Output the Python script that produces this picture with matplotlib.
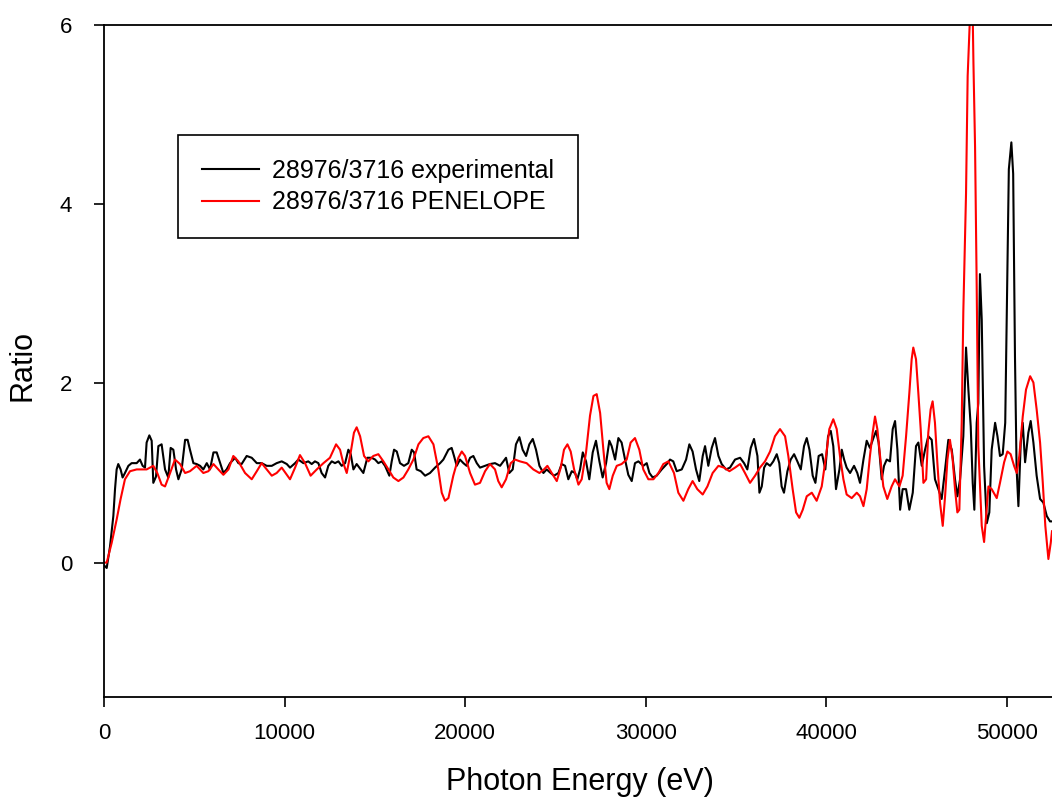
import matplotlib
matplotlib.use("Agg")
import matplotlib.pyplot as plt

plt.rcParams['font.family'] = ['Liberation Sans', 'DejaVu Sans']

# experimental ratio (black)
exp_energy = [0, 150, 333, 517, 610, 700, 790, 920, 1030, 1160, 1350, 1530, 1810, 1990,
              2140, 2270, 2360, 2510, 2640, 2730, 2880, 3010, 3190, 3380, 3560, 3690,
              3840, 3990, 4120, 4300, 4490, 4630, 4760, 4950, 5130, 5320, 5500, 5690,
              5870, 6060, 6240, 6430, 6610, 6790, 6980, 7260, 7440, 7620, 7900, 8180,
              8460, 8730, 9010, 9290, 9560, 9840, 10120,
              10300, 10580, 10760, 11040, 11310, 11500, 11680, 11870, 12050, 12240,
              12420, 12610, 12790, 12980, 13160, 13350, 13530, 13660, 13810, 13990,
              14210, 14360, 14580, 14820, 15010, 15190, 15380, 15560, 15800, 15930,
              16060, 16210, 16390, 16610, 16850, 17040, 17170, 17310, 17540, 17780,
              18050, 18330, 18610, 18790, 19070, 19250, 19380, 19530, 19710, 19900,
              20080, 20270, 20450, 20640,
              20820, 21100, 21370, 21650, 21930, 22110, 22260, 22440, 22630, 22810,
              23000, 23180, 23370, 23550, 23740, 23920, 24110, 24330, 24510, 24730,
              24920, 25160, 25340, 25530, 25710, 25900, 26080, 26210, 26360, 26510,
              26690, 26870, 27060, 27240, 27430, 27610, 27800, 27980, 28110, 28300,
              28480, 28660, 28850, 29030, 29220, 29400, 29590, 29860, 30050, 30200,
              30380, 30600, 30880, 31160,
              31340, 31520, 31710, 31990, 32230, 32410, 32590, 32780, 32960, 33150,
              33280, 33460, 33650, 33830, 34020, 34200, 34440, 34660, 34940, 35220,
              35440, 35620, 35810, 35990, 36180, 36290, 36420, 36550, 36690, 36880,
              37060, 37250, 37390, 37520, 37650, 37840, 38020, 38210, 38390, 38580,
              38760, 38910, 39060, 39240, 39390, 39570, 39760, 39940, 40090, 40240,
              40380, 40530, 40720, 40850, 40980, 41120, 41310, 41530, 41710,
              41860, 42050, 42230, 42410, 42600, 42750, 42890, 43060, 43190, 43340,
              43520, 43670, 43800, 43930, 44080, 44220, 44410, 44590, 44780, 44960,
              45090, 45280, 45460, 45640, 45830, 46010, 46200, 46380, 46570, 46750,
              46940, 47120, 47250, 47400, 47580, 47730, 47860, 47990, 48100, 48190,
              48320, 48410, 48500, 48600, 48730, 48880, 49020, 49150, 49340, 49470,
              49610, 49760, 49900, 49990, 50100, 50240, 50340, 50440, 50530, 50630,
              50760, 50870, 51000, 51180, 51310, 51460, 51640, 51830, 52010, 52200,
              52380, 52490]
exp_ratio = [-0.03, -0.06, 0.18, 0.52, 0.82, 1.04, 1.10, 1.04, 0.95, 1.00, 1.08, 1.11, 1.11, 1.15,
             1.08, 1.06, 1.34, 1.42, 1.36, 0.89, 0.96, 1.30, 1.32, 1.04, 0.95, 1.28,
             1.26, 1.04, 0.93, 1.04, 1.37, 1.37, 1.26, 1.11, 1.10, 1.08, 1.04, 1.11,
             1.04, 1.23, 1.23, 1.11, 1.00, 1.04, 1.11, 1.17, 1.11, 1.10, 1.19, 1.17,
             1.11, 1.11, 1.08, 1.08, 1.11, 1.13, 1.10,
             1.06, 1.11, 1.15, 1.11, 1.13, 1.10, 1.13, 1.11, 1.00, 0.95,
             1.08, 1.13, 1.11, 1.13, 1.08, 1.11, 1.26, 1.21, 1.04, 1.10,
             1.04, 1.00, 1.17, 1.17, 1.15, 1.11, 1.13, 1.08, 0.97, 1.13,
             1.26, 1.24, 1.11, 1.08, 1.11, 1.26, 1.23, 1.04, 1.02, 0.97,
             1.00, 1.06, 1.11, 1.15, 1.26, 1.28, 1.19, 1.08, 1.15, 1.11,
             1.08, 1.17, 1.19, 1.11,
             1.06, 1.08, 1.10, 1.11, 1.08, 1.13, 1.17, 1.00, 1.04, 1.32,
             1.40, 1.26, 1.19, 1.32, 1.38, 1.26, 1.08, 1.00, 1.04, 1.00,
             0.97, 1.00, 1.10, 1.08, 0.93, 1.02, 1.00, 0.93, 1.04, 1.23,
             1.13, 0.93, 1.23, 1.36, 1.13, 0.95, 1.11, 1.36, 1.30, 1.15,
             1.39, 1.34, 1.15, 0.98, 0.91, 1.11, 1.13, 1.08, 1.11, 1.00,
             0.95, 0.97, 1.04, 1.10,
             1.15, 1.13, 1.02, 1.04, 1.15, 1.32, 1.24, 1.04, 0.91, 1.19,
             1.30, 1.08, 1.28, 1.39, 1.19, 1.10, 1.04, 1.06, 1.15, 1.17,
             1.11, 1.04, 1.28, 1.38, 1.19, 0.78, 0.85, 1.06, 1.11, 1.08,
             1.13, 1.21, 1.11, 0.85, 0.78, 1.02, 1.15, 1.21, 1.13, 1.04,
             1.30, 1.39, 1.26, 0.97, 0.89, 1.19, 1.21, 1.04, 1.41, 1.47,
             1.30, 0.82, 1.04, 1.26, 1.15, 1.06, 1.00, 1.08, 1.00,
             0.89, 1.15, 1.36, 1.28, 1.39, 1.47, 1.34, 0.93, 1.08, 1.15,
             1.13, 1.49, 1.58, 1.26, 0.59, 0.82, 0.82, 0.59, 0.78, 1.30,
             1.34, 1.08, 1.26, 1.41, 1.37, 0.93, 0.82, 0.71, 1.04, 1.37,
             1.26, 0.93, 0.74, 0.93, 1.41, 2.40, 1.93, 1.52, 0.89, 0.59,
             1.56, 1.78, 3.22, 2.71, 1.08, 0.44, 0.56, 1.26, 1.56, 1.41,
             1.19, 1.21, 1.56, 2.80, 4.39, 4.69, 4.34, 2.30, 1.05, 0.63,
             1.34, 1.56, 1.12, 1.45, 1.58, 1.34, 0.97, 0.71, 0.67, 0.52,
             0.46, 0.46]

# PENELOPE simulation ratio (red)
sim_energy = [50, 150, 425, 700, 920, 1160, 1440, 1810, 2360, 2730, 2950, 3190, 3380,
              3660, 3930, 4210, 4490, 4760, 5130, 5500, 5780, 6060, 6330, 6610, 6890,
              7160, 7440, 7810, 8180, 8460, 8730, 9010, 9290, 9560, 9840, 10120,
              10300, 10580, 10850, 11130, 11440, 11780, 12150, 12510, 12850, 13070,
              13250, 13440, 13660, 13840, 13990, 14180, 14400, 14640, 14910, 15190,
              15470, 15750, 16020, 16300, 16580, 16850, 17130, 17410, 17680, 17960,
              18240, 18510, 18700, 18880, 19070, 19340, 19620, 19810, 19990, 20270,
              20540,
              20820, 21100, 21370, 21650, 21830, 22020, 22260, 22520, 22760, 23030,
              23400, 23770, 24110, 24360, 24550, 24790, 25070, 25290, 25470, 25660,
              25840, 26030, 26270, 26450, 26690, 26910, 27100, 27280, 27470, 27650,
              27830, 27980, 28170, 28390, 28660, 28940, 29160, 29400, 29640, 29860,
              30140, 30420, 30700, 30970, 31250,
              31560, 31800, 32080, 32350, 32590, 32850, 33150, 33410, 33700, 34020,
              34330, 34630, 34940, 35220, 35490, 35770, 36050, 36320, 36600, 36880,
              37150, 37430, 37710, 37890, 38130, 38320, 38500, 38690, 38910, 39190,
              39460, 39740, 39980, 40160, 40380, 40570, 40750, 40940, 41120, 41400,
              41680,
              41860, 42050, 42230, 42410, 42560, 42690, 42820, 42970, 43150, 43370,
              43610, 43800, 44040, 44220, 44410, 44590, 44720, 44810, 44960, 45090,
              45220, 45370, 45520, 45640, 45770, 45880, 46010, 46140, 46290, 46440,
              46570, 46700, 46840, 46990, 47120, 47250, 47360, 47490, 47580, 47730,
              47820, 47950, 48100, 48140, 48230, 48320, 48410, 48600, 48730, 48970,
              49150, 49430, 49610, 49840, 50020, 50200, 50390, 50540, 50680, 50870,
              51050, 51280, 51460, 51640, 51830, 51980, 52120, 52290, 52420, 52490]
sim_ratio = [0.00, 0.00, 0.22, 0.48, 0.71, 0.93, 1.02, 1.04, 1.04, 1.08, 1.00, 0.87, 0.85,
             1.00, 1.15, 1.10, 1.00, 1.02, 1.08, 1.00, 1.02, 1.10, 1.04, 0.98, 1.04,
             1.19, 1.13, 1.00, 0.93, 1.02, 1.11, 1.04, 0.97, 1.00, 1.06, 0.98,
             0.93, 1.06, 1.20, 1.11, 0.97, 1.04, 1.11, 1.17, 1.32, 1.26,
             1.11, 1.00, 1.23, 1.45, 1.51, 1.41, 1.19, 1.13, 1.19, 1.21,
             1.13, 1.04, 0.95, 0.91, 0.95, 1.04, 1.15, 1.32, 1.39, 1.41,
             1.32, 1.04, 0.78, 0.69, 0.72, 0.97, 1.17, 1.24, 1.19, 1.00,
             0.87,
             0.89, 1.02, 1.10, 1.04, 0.91, 0.84, 0.93, 1.11, 1.15, 1.13,
             1.11, 1.04, 1.00, 1.04, 1.08, 1.00, 0.91, 1.06, 1.26, 1.32,
             1.24, 1.04, 0.87, 0.93, 1.23, 1.64, 1.86, 1.88, 1.67, 1.26,
             0.89, 0.82, 0.97, 1.08, 1.10, 1.15, 1.34, 1.39, 1.26, 1.04,
             0.93, 0.93, 1.00, 1.10, 1.13,
             1.00, 0.78, 0.69, 0.82, 0.91, 0.82, 0.76, 0.85, 1.00, 1.08,
             1.06, 1.02, 1.06, 1.10, 1.00, 0.89, 0.97, 1.06, 1.13, 1.24,
             1.41, 1.49, 1.41, 1.19, 0.82, 0.56, 0.50, 0.59, 0.74, 0.78,
             0.69, 0.85, 1.19, 1.49, 1.60, 1.49, 1.19, 0.93, 0.76, 0.72,
             0.78,
             0.74, 0.63, 0.82, 1.19, 1.45, 1.63, 1.49, 1.19, 0.85, 0.71,
             0.85, 0.93, 0.85, 0.97, 1.41, 1.89, 2.27, 2.40, 2.27, 1.89,
             1.49, 0.89, 0.93, 1.45, 1.71, 1.80, 1.56, 1.12, 0.67, 0.41,
             0.74, 1.15, 1.37, 1.15, 0.82, 0.56, 0.59, 1.56, 2.80, 4.12,
             5.43, 6.10, 6.10, 5.58, 4.64, 3.09, 1.30, 0.41, 0.23, 0.85,
             0.82, 0.72, 0.89, 1.12, 1.24, 1.21, 1.08, 1.00, 1.19, 1.63,
             1.93, 2.08, 2.01, 1.71, 1.34, 0.89, 0.41, 0.04, 0.22, 0.35]

xticks = [0, 10000, 20000, 30000, 40000, 50000]
yticks = [0, 2, 4, 6]

W, H = 1052, 810
fig = plt.figure(figsize=(W / 100, H / 100), dpi=100)
ax = fig.add_axes([104 / W, (H - 697) / H, (W - 104) / W, 672 / H])

ax.plot(exp_energy, exp_ratio, color='black', lw=1.5, label='28976/3716 experimental')
ax.plot(sim_energy, sim_ratio, color='red', lw=1.5, label='28976/3716 PENELOPE')

ax.set_xlim(0, 52490)
ax.set_ylim(-1.5, 6)
ax.set_xticks(xticks)
ax.set_yticks(yticks)
ax.spines['right'].set_visible(False)
for s in ['left', 'bottom', 'top']:
    ax.spines[s].set_linewidth(1.3)
ax.tick_params(direction='out', length=7, width=1.2, labelsize=16,
               top=False, right=False)
ax.tick_params(axis='x', pad=12)
ax.tick_params(axis='y', pad=16)

ax.set_xlabel('Photon Energy (eV)', fontsize=22)
ax.set_ylabel('Ratio', fontsize=22)
ax.xaxis.set_label_coords(0.502, -0.104)
ax.yaxis.set_label_coords(-0.07, 0.494)

leg = ax.legend(loc='upper left', bbox_to_anchor=(178 / W, 1 - 135 / H),
                bbox_transform=fig.transFigure, borderaxespad=0, fontsize=18,
                fancybox=False, framealpha=1, edgecolor='black',
                handlelength=2.3, handletextpad=0.5, labelspacing=0.3,
                borderpad=0.95)
leg.get_frame().set_linewidth(1.2)

fig.savefig('out.png', dpi=100)
